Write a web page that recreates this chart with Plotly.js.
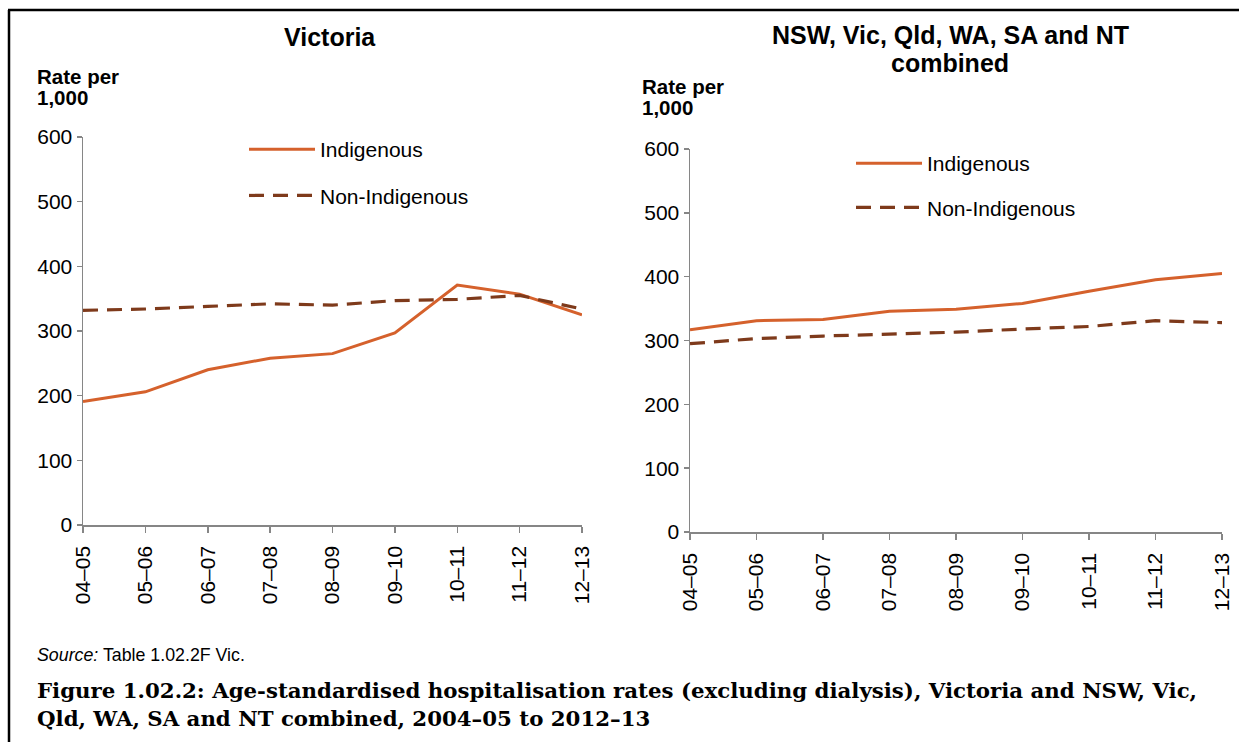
<!DOCTYPE html>
<html>
<head>
<meta charset="utf-8">
<script src="https://cdn.plot.ly/plotly-3.0.1.min.js"></script>
<style>
html,body{margin:0;padding:0;background:#fff;}
#chart{width:1239px;height:742px;}
</style>
</head>
<body>
<div id="chart"></div>
<script>
// ---- Data ----
const years = ['04–05','05–06','06–07','07–08','08–09','09–10','10–11','11–12','12–13'];
const vicIndigenous    = [191, 206, 240, 258, 265, 297, 371, 357, 325];
const vicNonIndigenous = [332, 334, 338, 342, 340, 347, 349, 355, 334];
const combIndigenous    = [317, 331, 333, 346, 349, 358, 377, 395, 405];
const combNonIndigenous = [295, 303, 307, 310, 313, 318, 322, 331, 328];
const seriesNames = ['Indigenous', 'Non-Indigenous'];
const yTicks = [0, 100, 200, 300, 400, 500, 600];

// ---- Styles ----
const cInd = '#D5612C';
const cNon = '#7E3A1B';
const axisGrey = '#868686';
const FONT = 'Arial, "Liberation Sans", sans-serif';
const W = 1239, H = 742;
const px = v => v / W;
const py = v => 1 - v / H;

const traces = [
  {x: years, y: vicIndigenous, name: seriesNames[0], type: 'scatter', mode: 'lines',
   line: {color: cInd, width: 3}, xaxis: 'x', yaxis: 'y', legend: 'legend', legendgroup: 'a'},
  {x: years, y: vicNonIndigenous, name: seriesNames[1], type: 'scatter', mode: 'lines',
   line: {color: cNon, width: 3.2, dash: '15px,9px'}, xaxis: 'x', yaxis: 'y', legend: 'legend', legendgroup: 'b'},
  {x: years, y: combIndigenous, name: seriesNames[0], type: 'scatter', mode: 'lines',
   line: {color: cInd, width: 3}, xaxis: 'x2', yaxis: 'y2', legend: 'legend2', legendgroup: 'c'},
  {x: years, y: combNonIndigenous, name: seriesNames[1], type: 'scatter', mode: 'lines',
   line: {color: cNon, width: 3.2, dash: '15px,9px'}, xaxis: 'x2', yaxis: 'y2', legend: 'legend2', legendgroup: 'd'}
];

function xAxis(domain, anchor) {
  return {
    domain: domain, anchor: anchor, type: 'category', categoryorder: 'array', categoryarray: years,
    range: [0, years.length - 1], showline: true, linecolor: axisGrey, linewidth: 1.5,
    ticks: 'outside', ticklen: 6, tickcolor: axisGrey, tickwidth: 1.5, tickangle: -90,
    showgrid: false, zeroline: false, fixedrange: true,
    tickfont: {family: FONT, size: 21, color: '#000'}, ticklabelstandoff: 5
  };
}
function yAxis(domain, anchor) {
  return {
    domain: domain, anchor: anchor, range: [0, 600], tickvals: yTicks,
    showline: true, linecolor: axisGrey, linewidth: 1.5,
    ticks: 'outside', ticklen: 5, tickcolor: axisGrey, tickwidth: 1.5,
    showgrid: false, zeroline: false, fixedrange: true,
    tickfont: {family: FONT, size: 21, color: '#000'}
  };
}

function note(text, x, y, size, anchor, extra) {
  return Object.assign({text: text, x: px(x), y: py(y), xref: 'paper', yref: 'paper',
    xanchor: anchor, yanchor: 'middle', align: anchor === 'center' ? 'center' : 'left',
    showarrow: false, font: {family: FONT, size: size, color: '#000'}}, extra || {});
}

const serif = '"DejaVu Serif", "Liberation Serif", serif';

const layout = {
  width: W, height: H,
  margin: {l: 0, r: 0, t: 0, b: 0},
  paper_bgcolor: '#fff', plot_bgcolor: '#fff',
  font: {family: FONT, color: '#000'},
  xaxis: xAxis([px(83), px(582)], 'y'),
  yaxis: yAxis([py(525), py(137)], 'x'),
  xaxis2: xAxis([px(690), px(1222)], 'y2'),
  yaxis2: yAxis([py(532), py(149)], 'x2'),
  legend: {x: px(244), y: py(129), xanchor: 'left', yanchor: 'top', bgcolor: 'rgba(0,0,0,0)',
           font: {family: FONT, size: 21, color: '#000'}, tracegroupgap: 16, itemwidth: 66},
  legend2: {x: px(851), y: py(143), xanchor: 'left', yanchor: 'top', bgcolor: 'rgba(0,0,0,0)',
           font: {family: FONT, size: 21, color: '#000'}, tracegroupgap: 14, itemwidth: 66},
  showlegend: true,
  annotations: [
    note('<b>Victoria</b>', 330, 37, 25, 'center'),
    note('<b>NSW, Vic, Qld, WA, SA and NT</b>', 950, 35, 25, 'center'),
    note('<b>combined</b>', 950, 63, 25, 'center'),
    note('<b>Rate per</b>', 35, 77, 20.5, 'left'),
    note('<b>1,000</b>', 35, 98, 20.5, 'left'),
    note('<b>Rate per</b>', 640, 86, 20.5, 'left'),
    note('<b>1,000</b>', 640, 108, 20.5, 'left'),
    note('<i>Source:</i> Table 1.02.2F Vic.', 35, 655, 17.8, 'left'),
    note('<b>Figure 1.02.2: Age-standardised hospitalisation rates (excluding dialysis), Victoria and NSW, Vic,</b>',
         35, 690, 21.3, 'left', {font: {family: serif, size: 21.3, color: '#000'}}),
    note('<b>Qld, WA, SA and NT combined, 2004–05 to 2012–13</b>',
         35, 718, 21.3, 'left', {font: {family: serif, size: 21.3, color: '#000'}})
  ],
  shapes: [
    {type: 'line', xref: 'paper', yref: 'paper', x0: px(8), x1: 1, y0: py(10), y1: py(10),
     line: {color: '#000', width: 2.5}},
    {type: 'line', xref: 'paper', yref: 'paper', x0: px(9), x1: px(9), y0: 0, y1: py(10),
     line: {color: '#000', width: 2.5}}
  ]
};

Plotly.newPlot('chart', traces, layout, {displayModeBar: false, staticPlot: true});
</script>
</body>
</html>
